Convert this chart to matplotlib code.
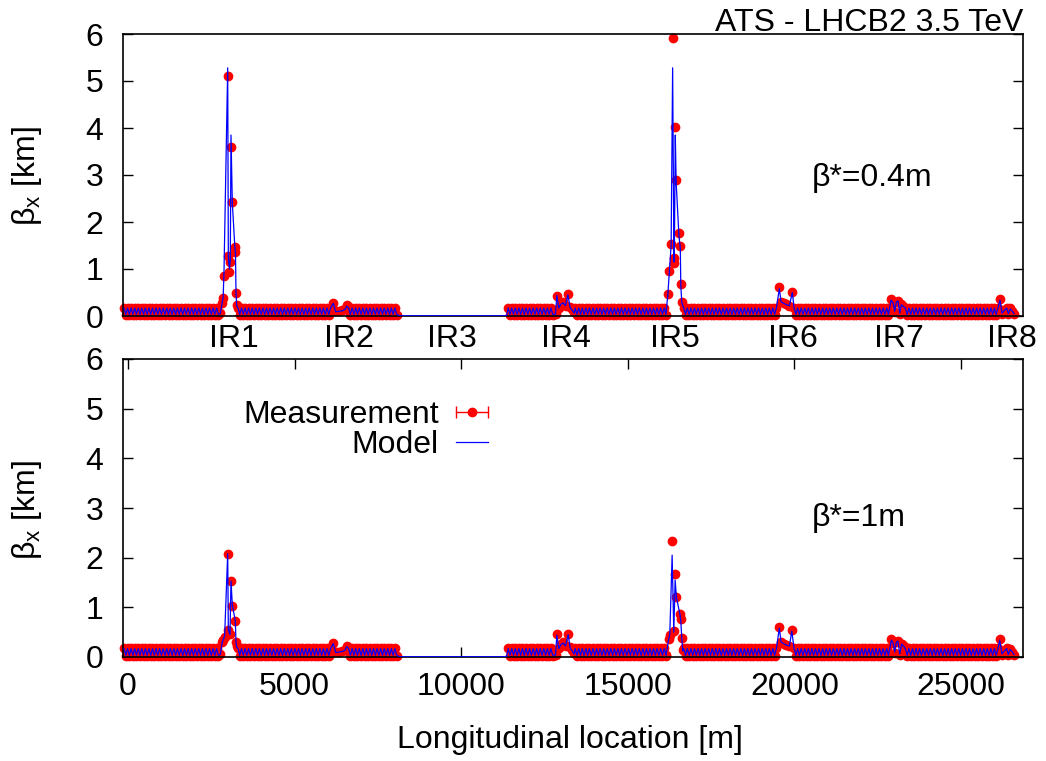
import numpy as np
import matplotlib.pyplot as plt
from matplotlib.lines import Line2D
from matplotlib.legend_handler import HandlerLine2D

plt.rcParams['font.family'] = ['Liberation Sans', 'DejaVu Sans']
plt.rcParams['font.size'] = 23

# interaction regions (tick labels of the upper panel), position in m
ir_names = ["IR1", "IR2", "IR3", "IR4", "IR5", "IR6", "IR7", "IR8"]
ir_pos = [3180, 6630, 9720, 13150, 16420, 19960, 23140, 26530]

# regular arc BPMs: (first, last) s in m, one BPM every half cell
arc_edges = [(-120, 2760), (3300, 6110), (6620, 8100), (11410, 12780),
             (13420, 16150), (16680, 19470), (19990, 22850), (23330, 26120)]
half_cell = 53.45
arc_meas = [0.18, 0.03]     # km, focusing / defocusing BPM
arc_model = [0.17, 0.035]

# IR3 has no BPM data, only the model line
ir3_s = [8150, 9700, 11360]
ir3_model = [0.005, 0.005, 0.005]

# insertion BPMs, beta* = 0.4 m
ins_s_04 = [2770, 2830, 2855, 2880, 2992, 3011, 3045, 3070, 3091, 3131, 3211, 3225, 3241, 3261,
            6162, 6230, 6330, 6430, 6520, 6564,
            12830, 12870, 12930, 12990, 13060, 13130, 13200, 13270, 13330, 13390,
            16200, 16250, 16300, 16345, 16385, 16395, 16425, 16450, 16535, 16575, 16590, 16620,
            19547, 19600, 19680, 19760, 19850, 19937,
            22900, 22960, 23010, 23060, 23110, 23160, 23210, 23270,
            26170, 26230, 26300, 26370, 26420, 26480, 26540, 26590]
ins_meas_04 = [0.06, 0.28, 0.38, 0.85, 5.10, 1.28, 0.94, 1.15, 3.60, 2.43, 1.47, 1.36, 0.49, 0.23,
               0.28, 0.10, 0.11, 0.12, 0.15, 0.24,
               0.05, 0.43, 0.18, 0.26, 0.30, 0.22, 0.47, 0.20, 0.15, 0.08,
               0.47, 0.96, 1.53, 5.92, 1.13, 1.23, 4.02, 2.89, 1.76, 1.49, 0.68, 0.30,
               0.61, 0.30, 0.27, 0.25, 0.22, 0.52,
               0.36, 0.28, 0.08, 0.30, 0.31, 0.05, 0.25, 0.22,
               0.36, 0.05, 0.12, 0.18, 0.05, 0.16, 0.10, 0.05]
ins_model_04 = [0.05, 0.30, 0.40, 0.90, 5.28, 1.25, 1.00, 1.20, 3.85, 2.40, 1.42, 1.35, 0.50, 0.22,
                0.27, 0.09, 0.10, 0.11, 0.14, 0.21,
                0.04, 0.44, 0.17, 0.25, 0.28, 0.22, 0.45, 0.18, 0.12, 0.06,
                0.45, 0.98, 1.50, 5.28, 1.15, 1.20, 3.85, 2.85, 1.70, 1.45, 0.65, 0.28,
                0.58, 0.30, 0.27, 0.24, 0.22, 0.50,
                0.34, 0.28, 0.10, 0.30, 0.32, 0.06, 0.24, 0.20,
                0.34, 0.06, 0.12, 0.17, 0.05, 0.15, 0.10, 0.05]

# insertion BPMs, beta* = 1 m
ins_s_1 = [2770, 2830, 2860, 2900, 2992, 3011, 3061, 3091, 3131, 3221, 3241, 3261,
           6162, 6230, 6330, 6430, 6520, 6564,
           12830, 12870, 12930, 12990, 13060, 13130, 13210, 13270, 13330, 13390,
           16150, 16224, 16260, 16330, 16380, 16420, 16459, 16567, 16587, 16620, 16650,
           19547, 19600, 19680, 19760, 19850, 19921,
           22912, 22960, 23010, 23060, 23107, 23160, 23220, 23298,
           26160, 26230, 26300, 26370, 26420, 26480, 26540, 26590]
ins_meas_1 = [0.06, 0.30, 0.34, 0.40, 2.08, 0.54, 0.47, 1.53, 1.03, 0.73, 0.31, 0.22,
              0.29, 0.10, 0.11, 0.12, 0.15, 0.22,
              0.05, 0.46, 0.18, 0.26, 0.30, 0.22, 0.46, 0.20, 0.15, 0.08,
              0.05, 0.36, 0.45, 2.34, 0.52, 1.68, 1.21, 0.86, 0.76, 0.39, 0.15,
              0.61, 0.30, 0.27, 0.25, 0.22, 0.54,
              0.36, 0.28, 0.08, 0.30, 0.33, 0.05, 0.27, 0.22,
              0.36, 0.05, 0.12, 0.18, 0.05, 0.16, 0.10, 0.05]
ins_model_1 = [0.05, 0.30, 0.36, 0.42, 2.08, 0.55, 0.45, 1.53, 1.05, 0.72, 0.30, 0.20,
               0.27, 0.09, 0.10, 0.11, 0.14, 0.21,
               0.04, 0.44, 0.17, 0.25, 0.28, 0.22, 0.45, 0.18, 0.12, 0.06,
               0.05, 0.35, 0.46, 2.05, 0.50, 1.55, 1.20, 0.85, 0.75, 0.38, 0.12,
               0.58, 0.30, 0.27, 0.24, 0.22, 0.52,
               0.34, 0.28, 0.10, 0.30, 0.32, 0.06, 0.26, 0.20,
               0.34, 0.06, 0.12, 0.17, 0.05, 0.15, 0.10, 0.05]

meas_err = 0.01


def arc_points(values):
    s, v = [], []
    for a, b in arc_edges:
        pts = np.arange(a, b + 1, half_cell)
        s.extend(pts)
        v.extend(np.where(np.arange(len(pts)) % 2 == 0, values[0], values[1]))
    return s, v


def build(ins_s, ins_meas, ins_model):
    arc_s, arc_m = arc_points(arc_meas)
    _, arc_mod = arc_points(arc_model)
    s = np.array(arc_s + list(ins_s))
    m = np.array(arc_m + list(ins_meas))
    o = np.argsort(s)
    sm = np.array(arc_s + list(ins_s) + ir3_s)
    mm = np.array(arc_mod + list(ins_model) + ir3_model)
    om = np.argsort(sm)
    return s[o], m[o], sm[om], mm[om]


fig = plt.figure(figsize=(10.46, 7.61), dpi=100)
ax1 = fig.add_axes([123/1046, 1-316/761, 900/1046, 282/761])
ax2 = fig.add_axes([123/1046, 1-657/761, 900/1046, 298/761])

panels = [(ax1, ins_s_04, ins_meas_04, ins_model_04), (ax2, ins_s_1, ins_meas_1, ins_model_1)]
for ax, a, b, c in panels:
    s, m, sm, mm = build(a, b, c)
    ax.errorbar(s, m, yerr=meas_err, fmt='o', color='red', ms=6, capsize=3,
                elinewidth=1, capthick=1, clip_on=False, zorder=2)
    ax.plot(sm, mm, color='blue', lw=0.9, zorder=3)
    ax.set_xlim(-150, 26860)
    ax.set_ylim(0, 6)
    ax.set_yticks(range(0, 7))
    ax.tick_params(axis='y', direction='in', length=7, width=1, left=True, right=True, pad=14)
    for sp in ax.spines.values():
        sp.set_linewidth(1.2)

ax1.set_xticks(ir_pos)
ax1.set_xticklabels(ir_names)
ax1.tick_params(axis='x', length=0, pad=6)

ax2.set_xticks(range(0, 26000, 5000))
ax2.tick_params(axis='x', direction='in', length=7, width=1, top=True, bottom=True, pad=11)

fig.text(1023/1046, 1-31/761, "ATS - LHCB2 3.5 TeV", ha='right', va='baseline')
fig.text(812/1046, 1-178/761, "β*=0.4m", ha='left', va='center')
fig.text(812/1046, 1-518/761, "β*=1m", ha='left', va='center')
fig.text(27/1046, 1-176/761, r"β$_\mathregular{x}$ [km]", rotation=90, ha='center', va='center')
fig.text(27/1046, 1-510/761, r"β$_\mathregular{x}$ [km]", rotation=90, ha='center', va='center')
fig.text(570/1046, 1-740/761, "Longitudinal location [m]", ha='center', va='center')

# gnuplot-like legend samples
bar = Line2D([], [], color='red', lw=1, marker='|', ms=9, mew=1)
dot = Line2D([], [], color='red', marker='o', ls='none', ms=6)
model_h = Line2D([], [], color='blue', lw=0.9)
ax2.legend([(bar, dot), model_h], ["Measurement", "Model"], markerfirst=False,
           frameon=False, loc='upper right', bbox_to_anchor=(504/1046, 1-384/761),
           bbox_transform=fig.transFigure, borderpad=0, handlelength=1.0,
           handletextpad=0.55, labelspacing=0.0,
           handler_map={bar: HandlerLine2D(numpoints=2, marker_pad=0),
                        dot: HandlerLine2D(numpoints=1)})

fig.savefig("out.png", dpi=100)
